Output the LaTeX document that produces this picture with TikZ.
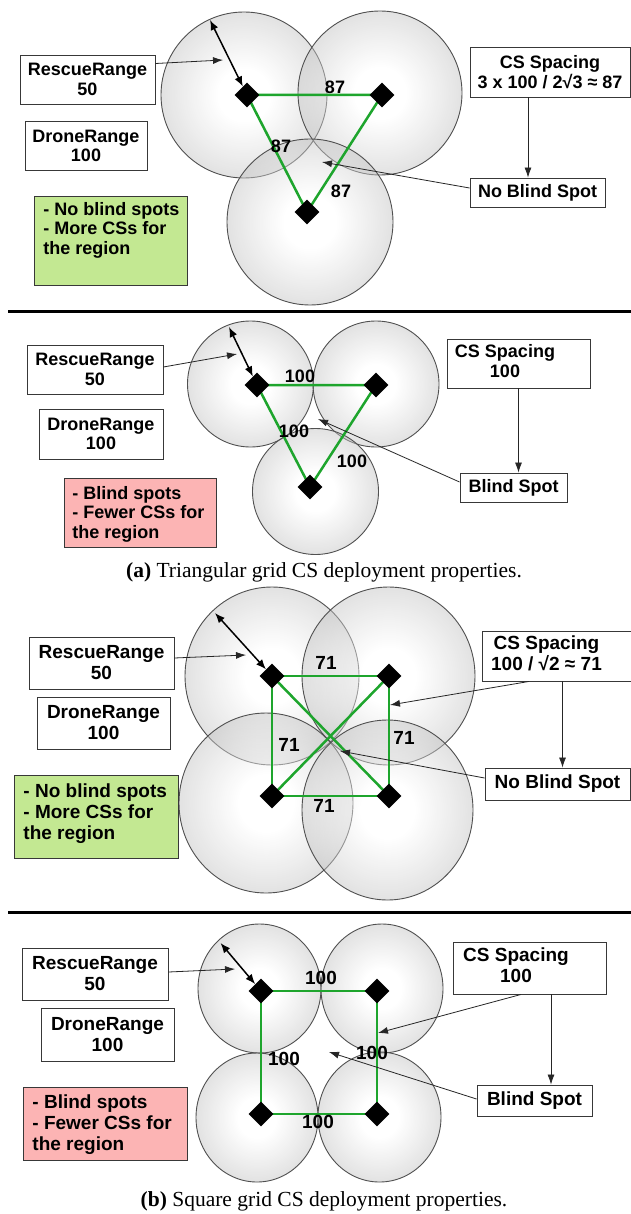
\documentclass[tikz,border=0pt]{standalone}
\usepackage{fontspec}
\setmainfont{Liberation Serif}
\setsansfont{Liberation Sans}
\usetikzlibrary{shapes.geometric,arrows.meta}
\definecolor{lnkc}{RGB}{30,165,45}
\definecolor{goodc}{RGB}{195,232,146}
\definecolor{badc}{RGB}{252,180,180}
\definecolor{edgec}{RGB}{80,80,80}
\pgfdeclareradialshading{ball}{\pgfpoint{0bp}{0bp}}{color(0bp)=(white); color(8bp)=(white); color(50bp)=(black!60)}
\newcommand\fA{\sffamily\bfseries\fontsize{18}{19.5}\selectfont}
\newcommand\fB{\sffamily\bfseries\fontsize{19}{21}\selectfont}
\tikzset{
  cov/.style={draw=edgec, line width=0.9pt, shading=ball, fill opacity=0.46},
  cs/.style={diamond, fill=black, inner sep=0pt, minimum width=25pt, minimum height=25pt},
  lnk/.style={draw=lnkc, line width=2.5pt},
  box/.style={draw=black!78, fill=white, line width=0.9pt, align=center, inner sep=0pt},
  cbox/.style={draw=black!78, line width=0.9pt, inner xsep=0pt, inner ysep=4pt, anchor=north west},
  num/.style={inner sep=0pt},
  ptr/.style={draw=black!85, line width=0.8pt, -{Latex[length=10pt,width=7pt]}},
  dbl/.style={draw=black, line width=1.5pt, {Latex[length=10pt,width=8pt]}-{Latex[length=10pt,width=8pt]}},
  rulel/.style={draw=black, line width=3pt},
  capt/.style={inner sep=0pt, font=\rmfamily\fontsize{21.5}{25}\selectfont}
}
\begin{document}
\begin{tikzpicture}[x=1pt,y=-1pt]
\fill[white] (0,0) rectangle (631,1214);
\useasboundingbox (0,0) rectangle (631,1214);

% ================= Panel 1 =================
\shadedraw[cov] (244,95) circle[radius=83];
\shadedraw[cov] (380,93) circle[radius=82];
\shadedraw[cov] (310,222) circle[radius=83];
\coordinate (p11) at (247,95);
\coordinate (p12) at (382,95);
\coordinate (p13) at (307,212);
\draw[lnk] (p11) -- (p12) -- (p13) -- cycle;
\node[cs] (d11) at (p11) {};
\node[cs] (d12) at (p12) {};
\node[cs] (d13) at (p13) {};
\node[num,font=\fA] (l11) at (335,87) {87};
\node[num,font=\fA] (l12) at (281,146) {87};
\node[num,font=\fA] (l13) at (341,191) {87};
\node[box,font=\fA,minimum width=135pt,minimum height=49pt] (rr1) at (87.5,79.5) {RescueRange\\50};
\node[box,font=\fA,minimum width=122pt,minimum height=49pt] (dr1) at (86,146) {DroneRange\\100};
\node[cbox,fill=goodc,font=\fA] (gb1) at (34,196) {\parbox[t][81pt][t]{153pt}{\raggedright\leftskip=9pt\rule{0pt}{15pt}- No blind spots\\- More CSs for\\the region}};
\node[box,font=\fA,minimum width=160pt,minimum height=50pt] (cs1) at (550,72) {CS Spacing\\3 x 100 / 2√3 ≈ 87};
\node[box,font=\fA,minimum width=135pt,minimum height=29pt] (nb1) at (537.5,192.5) {No Blind Spot};
\coordinate (da1) at (210,20);
\draw[dbl] (da1) -- (d11);
\coordinate (rt1) at (223,60);
\draw[ptr] ([yshift=16pt]rr1.east) -- (rt1);
\draw[ptr] ([xshift=-22pt]cs1.south) -- ([xshift=-22pt]cs1.south |- nb1.north);
\coordinate (nt1) at (322,162);
\draw[ptr] ([yshift=4.5pt]nb1.west) -- (nt1);

\draw[rulel] (8,311) -- (631,311);

% ================= Panel 2 =================
\shadedraw[cov] (250.5,384) circle[radius=63];
\shadedraw[cov] (376,384) circle[radius=63];
\shadedraw[cov] (315.5,491.5) circle[radius=63];
\coordinate (p21) at (257,385);
\coordinate (p22) at (376,385);
\coordinate (p23) at (310,487);
\draw[lnk] (p21) -- (p22) -- (p23) -- cycle;
\node[cs] (d21) at (p21) {};
\node[cs] (d22) at (p22) {};
\node[cs] (d23) at (p23) {};
\node[num,font=\fA] (l21) at (300,376) {100};
\node[num,font=\fA] (l22) at (294,431) {100};
\node[num,font=\fA] (l23) at (352,461) {100};
\node[box,font=\fA,minimum width=136pt,minimum height=49pt] (rr2) at (95,369.5) {RescueRange\\50};
\node[box,font=\fA,minimum width=124pt,minimum height=50pt] (dr2) at (101,434) {DroneRange\\100};
\node[cbox,fill=badc,font=\fA] (bb2) at (64,478) {\parbox[t][61pt][t]{152pt}{\raggedright\leftskip=8pt\rule{0pt}{17pt}- Blind spots\\- Fewer CSs for\\the region}};
\node[box,font=\fA,minimum width=143pt,minimum height=49pt] (cs2) at (518.5,363.5) {\begin{tabular}{@{}c@{}}CS Spacing\\100\end{tabular}\hspace*{27pt}};
\node[box,font=\fA,minimum width=107pt,minimum height=29pt] (bl2) at (513.5,487.5) {Blind Spot};
\coordinate (da2) at (229,327);
\draw[dbl] (da2) -- (d21);
\coordinate (rt2) at (237,354);
\draw[ptr] ([yshift=2.5pt]rr2.east) -- (rt2);
\draw[ptr] (cs2.south) -- (cs2.south |- bl2.north);
\coordinate (bt2) at (318,419);
\draw[ptr] ([yshift=5.5pt]bl2.west) -- (bt2);
\node[capt] (cap1) at (324,572) {\textbf{(a)} Triangular grid CS deployment properties.};

% ================= Panel 3 =================
\shadedraw[cov] (272,676) ellipse[x radius=87, y radius=89];
\shadedraw[cov] (388.5,676) ellipse[x radius=86.5, y radius=89];
\shadedraw[cov] (266,803) ellipse[x radius=87, y radius=90];
\shadedraw[cov] (387.5,810) ellipse[x radius=85.5, y radius=90];
\coordinate (p31) at (272,676);
\coordinate (p32) at (389,676);
\coordinate (p33) at (272,796);
\coordinate (p34) at (389,796);
\draw[lnk] (p31) -- (p32) -- (p34) -- (p33) -- cycle;
\draw[lnk] (p31) -- (p34);
\draw[lnk] (p32) -- (p33);
\node[cs] (d31) at (p31) {};
\node[cs] (d32) at (p32) {};
\node[cs] (d33) at (p33) {};
\node[cs] (d34) at (p34) {};
\node[num,font=\fB] (l31) at (326,663) {71};
\node[num,font=\fB] (l32) at (289,745) {71};
\node[num,font=\fB] (l33) at (404,738) {71};
\node[num,font=\fB] (l34) at (324,806) {71};
\node[box,font=\fB,minimum width=145pt,minimum height=52pt] (rr3) at (101.5,663) {RescueRange\\50};
\node[box,font=\fB,minimum width=133pt,minimum height=52pt] (dr3) at (103.5,723) {DroneRange\\100};
\node[cbox,fill=goodc,font=\fB] (gb3) at (14,775) {\parbox[t][75pt][t]{164pt}{\raggedright\leftskip=9pt\rule{0pt}{18pt}- No blind spots\\- More CSs for\\the region}};
\node[box,font=\fB,minimum width=149pt,minimum height=50pt] (cs3) at (556.5,656) {\begin{tabular}{@{}c@{}}CS Spacing\\100 / √2 ≈ 71\end{tabular}\hspace*{20pt}};
\node[box,font=\fB,minimum width=145pt,minimum height=32pt] (nb3) at (557.5,784) {No Blind Spot};
\coordinate (da3) at (215,613);
\draw[dbl] (da3) -- (d31);
\coordinate (rt3) at (246,655);
\draw[ptr] ([yshift=5pt]rr3.east) -- (rt3);
\draw[ptr] ([xshift=6pt]cs3.south) -- ([xshift=6pt]cs3.south |- nb3.north);
\coordinate (ct3) at (390,705);
\draw[ptr] ([xshift=-27.5pt]cs3.south) -- (ct3);
\coordinate (nt3) at (340,751);
\draw[ptr] ([yshift=6pt]nb3.west) -- (nt3);

\draw[rulel] (8,912) -- (631,912);

% ================= Panel 4 =================
\shadedraw[cov] (259.5,988.5) ellipse[x radius=61.5, y radius=64.5];
\shadedraw[cov] (382,988.5) ellipse[x radius=61, y radius=64.5];
\shadedraw[cov] (257,1117.5) ellipse[x radius=61, y radius=64.5];
\shadedraw[cov] (379.5,1117) ellipse[x radius=61.5, y radius=65];
\coordinate (p41) at (261,991);
\coordinate (p42) at (377,991);
\coordinate (p43) at (261,1114);
\coordinate (p44) at (377,1114);
\draw[lnk] (p41) -- (p42) -- (p44) -- (p43) -- cycle;
\node[cs] (d41) at (p41) {};
\node[cs] (d42) at (p42) {};
\node[cs] (d43) at (p43) {};
\node[cs] (d44) at (p44) {};
\node[num,font=\fB] (l41) at (321,978) {100};
\node[num,font=\fB] (l42) at (284,1059) {100};
\node[num,font=\fB] (l43) at (372,1053) {100};
\node[num,font=\fB] (l44) at (318,1122) {100};
\node[box,font=\fB,minimum width=146pt,minimum height=52pt] (rr4) at (95,974) {RescueRange\\50};
\node[box,font=\fB,minimum width=133pt,minimum height=53pt] (dr4) at (107.5,1034.5) {DroneRange\\100};
\node[cbox,fill=badc,font=\fB] (bb4) at (23,1087) {\parbox[t][65pt][t]{164pt}{\raggedright\leftskip=9pt\rule{0pt}{17pt}- Blind spots\\- Fewer CSs for\\the region}};
\node[box,font=\fB,minimum width=153pt,minimum height=52pt] (cs4) at (529.5,968) {\begin{tabular}{@{}c@{}}CS Spacing\\100\end{tabular}\hspace*{27pt}};
\node[box,font=\fB,minimum width=115pt,minimum height=31pt] (bs4) at (534.5,1100.5) {Blind Spot};
\coordinate (da4) at (220.5,943);
\draw[dbl] (da4) -- (d41);
\coordinate (rt4) at (235,969);
\draw[ptr] ([yshift=2pt]rr4.east) -- (rt4);
\draw[ptr] ([xshift=21.5pt]cs4.south) -- ([xshift=21.5pt]cs4.south |- bs4.north);
\coordinate (ct4) at (378,1033);
\draw[ptr] ([xshift=-8.5pt]cs4.south) -- (ct4);
\coordinate (bt4) at (329,1052);
\draw[ptr] ([yshift=1.5pt]bs4.west) -- (bt4);
\node[capt] (cap2) at (324,1201) {\textbf{(b)} Square grid CS deployment properties.};
\end{tikzpicture}
\end{document}
